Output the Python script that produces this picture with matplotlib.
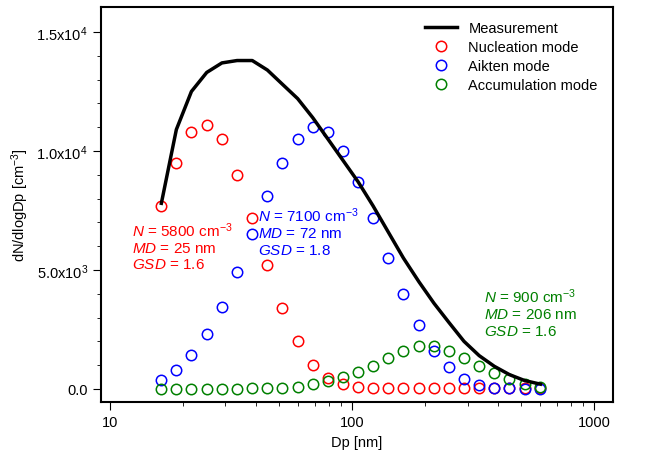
import matplotlib
matplotlib.use('Agg')
import matplotlib.pyplot as plt
from matplotlib.ticker import FixedLocator, FixedFormatter, NullFormatter

plt.rcParams['font.family'] = ['Liberation Sans', 'DejaVu Sans']
plt.rcParams['mathtext.fontset'] = 'custom'
plt.rcParams['mathtext.rm'] = 'Liberation Sans'
plt.rcParams['mathtext.it'] = 'Liberation Sans:italic'

# === Datos ===
dp = [16.3, 18.8, 21.7, 25.1, 29.0, 33.5, 38.7, 44.7, 51.6, 59.6, 68.8, 79.5, 91.8,
      106, 122, 141, 163, 189, 218, 251, 290, 335, 387, 447, 517, 600]
nucleation = [7.7, 9.5, 10.8, 11.1, 10.5, 9.0, 7.2, 5.2, 3.4, 2.0, 1.0, 0.46, 0.2,
              0.08, 0.03, 0.02, 0.02, 0.02, 0.02, 0.02, 0.02, 0.02, 0.02, 0.02, 0.02, 0.02]
aitken = [0.38, 0.8, 1.43, 2.3, 3.45, 4.9, 6.5, 8.1, 9.5, 10.5, 11.0, 10.8, 10.0,
          8.7, 7.2, 5.5, 4.0, 2.7, 1.6, 0.9, 0.42, 0.17, 0.05, 0.02, 0.01, 0.0]
accumulation = [0.01, 0.01, 0.01, 0.01, 0.01, 0.01, 0.02, 0.03, 0.05, 0.1, 0.2, 0.35, 0.5,
                0.7, 0.95, 1.3, 1.6, 1.8, 1.8, 1.6, 1.3, 0.95, 0.65, 0.4, 0.2, 0.1]
measurement = [7.8, 10.9, 12.5, 13.3, 13.7, 13.8, 13.8, 13.4, 12.8, 12.2, 11.4, 10.5, 9.6,
               8.7, 7.7, 6.6, 5.5, 4.5, 3.6, 2.8, 2.0, 1.4, 0.95, 0.6, 0.35, 0.2]

k = 1000.0
fig = plt.figure(figsize=(6.46, 4.64), dpi=100)
ax = fig.add_axes([101/646, 1-403/464, 512/646, 395/464])

ax.plot(dp, [v*k for v in measurement], color='black', lw=2.5, label='Measurement', zorder=3)
ax.plot(dp, [v*k for v in nucleation], 'o', mfc='none', mec='red', ms=7.5, mew=1.1, label='Nucleation mode')
ax.plot(dp, [v*k for v in aitken], 'o', mfc='none', mec='blue', ms=7.5, mew=1.1, label='Aikten mode')
ax.plot(dp, [v*k for v in accumulation], 'o', mfc='none', mec='green', ms=7.5, mew=1.1, label='Accumulation mode')

ax.set_xscale('log')
ax.set_xlim(9.18, 1197)
ax.set_ylim(-550, 16050)
ax.xaxis.set_major_locator(FixedLocator([10, 100, 1000]))
ax.xaxis.set_major_formatter(FixedFormatter(['10', '100', '1000']))
ax.xaxis.set_minor_formatter(NullFormatter())
ax.yaxis.set_major_locator(FixedLocator([0, 5000, 10000, 15000]))
ax.yaxis.set_major_formatter(FixedFormatter(['0.0', r'5.0x10$^3$', r'1.0x10$^4$', r'1.5x10$^4$']))
ax.yaxis.set_minor_locator(FixedLocator(list(range(1000, 16000, 1000))))
ax.tick_params(which='both', direction='out', labelsize=10.5)
ax.tick_params(which='major', length=6)
ax.tick_params(which='minor', length=3)
for s in ax.spines.values():
    s.set_linewidth(1.5)

ax.set_xlabel('Dp [nm]', fontsize=10.5)
ax.set_ylabel(r'dN/dlogDp [cm$^{-3}$]', fontsize=10.5)

ax.legend(loc='upper right', bbox_to_anchor=(0.99, 0.99), frameon=False, fontsize=10.5,
          handlelength=2.2, labelspacing=0.35, borderaxespad=0.3)

fs = 11
ax.text(12.3, 7100, '$N$ = 5800 cm$^{-3}$\n$MD$ = 25 nm\n$GSD$ = 1.6', color='red',
        fontsize=fs, va='top', linespacing=1.2)
ax.text(41, 7700, '$N$ = 7100 cm$^{-3}$\n$MD$ = 72 nm\n$GSD$ = 1.8', color='blue',
        fontsize=fs, va='top', linespacing=1.2)
ax.text(350, 4300, '$N$ = 900 cm$^{-3}$\n$MD$ = 206 nm\n$GSD$ = 1.6', color='green',
        fontsize=fs, va='top', linespacing=1.2)

fig.savefig('out.png', dpi=100)
